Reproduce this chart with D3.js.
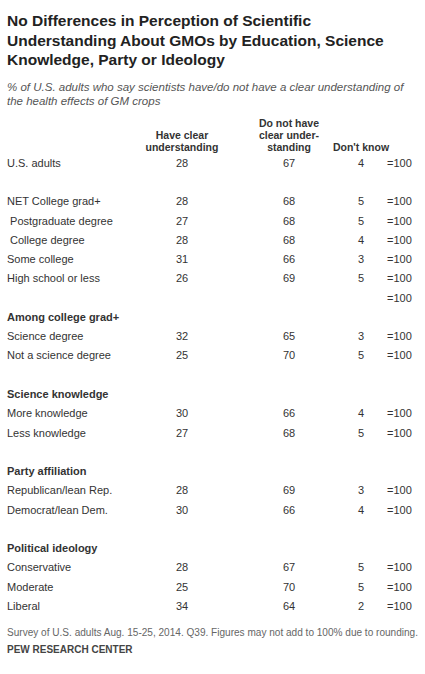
<!DOCTYPE html>
<html><head><meta charset="utf-8">
<script src="https://cdn.jsdelivr.net/npm/d3@7"></script>
<style>
body{margin:0;background:#fff;font-family:"Liberation Sans",Arial,sans-serif;}
text{white-space:pre;}
</style></head><body>
<svg id="chart" width="425" height="674"></svg>
<script>
const labels = ["U.S. adults", "", "NET College grad+", " Postgraduate degree", " College degree", "Some college", "High school or less", "",
  "Among college grad+", "Science degree", "Not a science degree", "",
  "Science knowledge", "More knowledge", "Less knowledge", "",
  "Party affiliation", "Republican/lean Rep.", "Democrat/lean Dem.", "",
  "Political ideology", "Conservative", "Moderate", "Liberal"];
const kinds = ["row", "gap", "row", "row", "row", "row", "row", "total",
  "head", "row", "row", "gap", "head", "row", "row", "gap",
  "head", "row", "row", "gap", "head", "row", "row", "row"];
const clear = [28, null, 28, 27, 28, 31, 26, null, null, 32, 25, null, null, 30, 27, null, null, 28, 30, null, null, 28, 25, 34];
const notClear = [67, null, 68, 68, 68, 66, 69, null, null, 65, 70, null, null, 66, 68, null, null, 69, 66, null, null, 67, 70, 64];
const dontKnow = [4, null, 5, 5, 4, 3, 5, null, null, 3, 5, null, null, 4, 5, null, null, 3, 4, null, null, 5, 5, 2];
const colHeads = [["Have clear", "understanding"], ["Do not have", "clear under-", "standing"], ["Don't know"]];

const svg = d3.select("#chart");
const y = d3.scaleLinear().domain([0, labels.length - 1]).range([163, 606]);
const x = d3.scaleOrdinal().domain(["clear", "not", "dk", "tot"]).range([182, 289, 361, 387]);

svg.append("text").attr("x", 7).attr("y", 26).attr("font-size", 15.5).attr("font-weight", "bold").attr("fill", "#222")
  .selectAll("tspan").data(["No Differences in Perception of Scientific", "Understanding About GMOs by Education, Science", "Knowledge, Party or Ideology"])
  .join("tspan").attr("x", 7).attr("dy", (d, i) => i ? 19.5 : 0).text(d => d);

svg.append("text").attr("y", 91).attr("font-size", 11.5).attr("font-style", "italic").attr("fill", "#555")
  .selectAll("tspan").data(["% of U.S. adults who say scientists have/do not have a clear understanding of", "the health effects of GM crops"])
  .join("tspan").attr("x", 7).attr("dy", (d, i) => i ? 14 : 0).text(d => d);

// column headers, bottom-aligned
colHeads.forEach((h, c) => {
  const key = ["clear", "not", "dk"][c];
  svg.append("text").attr("text-anchor", "middle").attr("font-size", 10.5).attr("font-weight", "bold").attr("fill", "#333")
    .selectAll("tspan").data(h).join("tspan")
    .attr("x", x(key)).attr("y", (d, i) => 151 - (h.length - 1 - i) * 12).text(d => d);
});

const rows = svg.append("g").selectAll("g").data(labels.map((l, i) => ({l, i, k: kinds[i]}))).join("g")
  .attr("transform", d => `translate(0,${y(d.i)})`).attr("font-size", 11).attr("fill", "#333");

rows.append("text").attr("x", 7).attr("dy", "0.35em")
  .attr("font-weight", d => d.k === "head" ? "bold" : null)
  .text(d => d.l);

const vals = [["clear", clear], ["not", notClear], ["dk", dontKnow]];
vals.forEach(([key, arr]) => {
  rows.filter(d => arr[d.i] != null).append("text").attr("x", x(key)).attr("text-anchor", "middle")
    .attr("dy", "0.35em").text(d => arr[d.i]);
});
rows.filter(d => d.k === "row" || d.k === "total").append("text").attr("x", x("tot")).attr("dy", "0.35em").text("=100");

svg.append("text").attr("x", 7).attr("y", 636).attr("font-size", 10).attr("fill", "#666")
  .attr("textLength", 411).attr("lengthAdjust", "spacingAndGlyphs")
  .text("Survey of U.S. adults Aug. 15-25, 2014. Q39. Figures may not add to 100% due to rounding.");
svg.append("text").attr("x", 7).attr("y", 653).attr("font-size", 10).attr("font-weight", "bold").attr("fill", "#444")
  .text("PEW RESEARCH CENTER");
</script>
</body></html>
